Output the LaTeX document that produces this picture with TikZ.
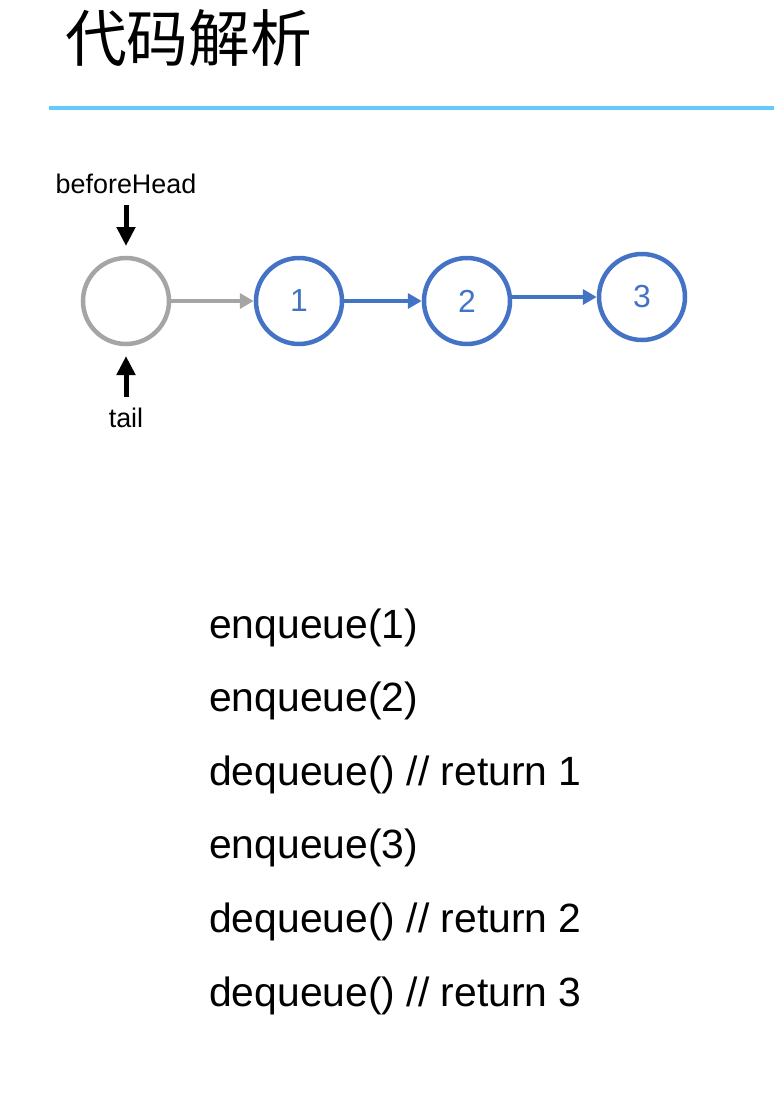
\documentclass[tikz,border=0pt]{standalone}
\usepackage{fontspec}
\setmainfont{Liberation Sans}
\newfontfamily\cjk{Noto Sans CJK SC}
\usetikzlibrary{arrows.meta}
\definecolor{nodeblue}{RGB}{68,114,196}
\definecolor{nodegray}{RGB}{165,165,165}
\definecolor{rule}{RGB}{100,202,250}
\tikzset{
  blue circ/.style={circle, draw=nodeblue, line width=4.5bp, minimum size=86bp, inner sep=0pt, text=nodeblue, font=\fontsize{32}{32}\selectfont},
  gray circ/.style={circle, draw=nodegray, line width=4.5bp, minimum size=86bp, inner sep=0pt},
  blue arrow/.style={draw=nodeblue, line width=4bp, -{Triangle[length=14bp,width=15bp]}},
  gray arrow/.style={draw=nodegray, line width=4bp, -{Triangle[length=14bp,width=15bp]}},
  ptr arrow/.style={draw=black, line width=5bp, -{Triangle[length=19bp,width=18bp]}},
  small label/.style={font=\fontsize{27}{27}\selectfont, inner sep=0pt},
  code line/.style={font=\fontsize{41}{41}\selectfont, anchor=base west, inner sep=0pt},
}
\begin{document}
\begin{tikzpicture}[x=1bp,y=-1bp]
\useasboundingbox (0,0) rectangle (774,1110);
\node[anchor=north west, inner sep=0pt, font=\cjk\fontsize{62}{62}\selectfont] (title) at (65,9) {代码解析};
\coordinate (ruleL) at (49,108);
\coordinate (ruleR) at (774,108);
\draw[rule, line width=3.5bp] (ruleL) -- (ruleR);

\node[gray circ] (bh) at (126,301) {};
\node[blue circ] (n1) at (299,301) {1};
\node[blue circ] (n2) at (467,301) {2};
\node[blue circ] (n3) at (642,297) {3};

\draw[gray arrow] (bh.east) -- (n1.west);
\draw[blue arrow] (n1.east) -- (n2.west);
\draw[blue arrow] (n2.east |- n3.west) -- (n3.west);

\node[small label] (lbh) at (126,184) {beforeHead};
\node[small label] (ltail) at (126,418) {tail};
\coordinate (bhtop) at (126,205);
\coordinate (bhbot) at (126,246);
\coordinate (tltop) at (126,356);
\coordinate (tlbot) at (126,397);
\draw[ptr arrow] (bhtop) -- (bhbot);
\draw[ptr arrow] (tlbot) -- (tltop);

\node[code line] (c1) at (209,638) {enqueue(1)};
\node[code line] (c2) at (209,711) {enqueue(2)};
\node[code line] (c3) at (209,785) {dequeue() // return 1};
\node[code line] (c4) at (209,858) {enqueue(3)};
\node[code line] (c5) at (209,932) {dequeue() // return 2};
\node[code line] (c6) at (209,1006) {dequeue() // return 3};
\end{tikzpicture}
\end{document}
